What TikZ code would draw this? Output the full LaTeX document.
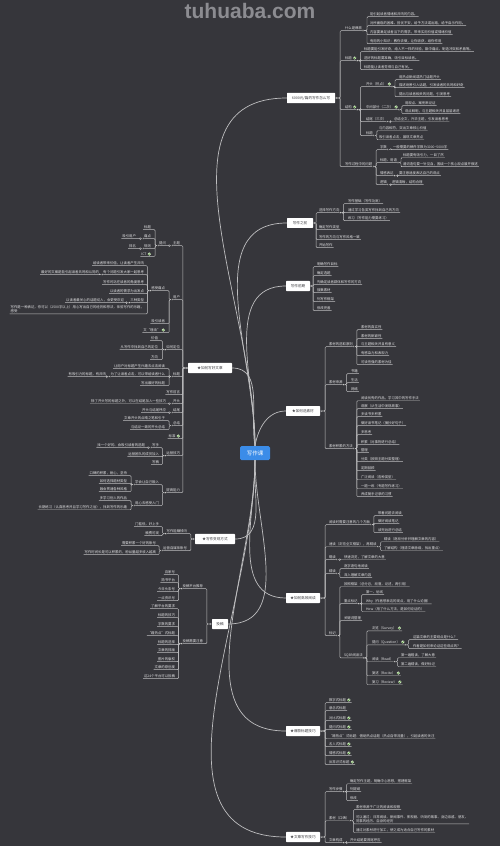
\documentclass[tikz,border=0pt]{standalone}
\usepackage{fontspec}
\setmainfont{Noto Sans CJK SC}
\newfontfamily\wmfont{Liberation Sans}
\definecolor{bgc}{RGB}{54,54,59}
\definecolor{lnc}{RGB}{190,190,192}
\definecolor{txtc}{RGB}{226,226,228}
\definecolor{boxt}{RGB}{60,60,64}
\definecolor{blu}{RGB}{59,140,232}
\definecolor{wmc}{RGB}{140,140,145}
\definecolor{dotc}{RGB}{235,235,235}
\definecolor{chkc}{RGB}{215,236,200}
\definecolor{chkg}{RGB}{70,140,45}
\newcommand\RN[4]{\node[lf,anchor=west] (#1) at (#2,#3) {#4};}
\newcommand\LN[4]{\node[lf,anchor=east] (#1) at (#2,#3) {#4};}
\newcommand\RNc[4]{\node[lf,anchor=west] (#1) at (#2,#3) {#4\hspace*{4.6pt}};\chk{#1}}
\newcommand\LNc[4]{\node[lf,anchor=east] (#1) at (#2,#3) {#4\hspace*{4.6pt}};\chk{#1}}
\newcommand\chk[1]{\coordinate (#1-k) at ([xshift=-2.7pt]#1.east);
  \fill[fill=chkc] (#1-k) circle (1.7pt);
  \draw[draw=chkg,line width=0.4pt] ([xshift=-0.9pt]#1-k) -- ++(0.6,0.7) -- ++(1.2,-1.4);}
\newcommand\RC[3][3]{\foreach \chn in {#3}{\draw[ln] (#2.south east) -- ++(#1,0) |- (\chn.south west) -- (\chn.south east);}\fill[dotf] (#2.south east) circle (1pt);}
\newcommand\LC[3][3]{\foreach \chn in {#3}{\draw[ln] (#2.south west) -- ++(-#1,0) |- (\chn.south east) -- (\chn.south west);}\fill[dotf] (#2.south west) circle (1pt);}
\newcommand\BRC[3][4]{\foreach \chn in {#3}{\draw[ln] (#2.east) -- ++(#1,0) |- (\chn.south west) -- (\chn.south east);}\fill[dotf] ([xshift=1.5pt]#2.east) circle (1.1pt);}
\newcommand\BLC[3][4]{\foreach \chn in {#3}{\draw[ln] (#2.west) -- ++(-#1,0) |- (\chn.south east) -- (\chn.south west);}\fill[dotf] ([xshift=-1.5pt]#2.west) circle (1.1pt);}
\begin{document}
\begin{tikzpicture}[x=1pt,y=-1pt,
 lf/.style={font=\fontsize{3.4}{4.2}\selectfont, text=txtc, inner xsep=0.8pt, inner ysep=0.9pt},
 ln/.style={draw=lnc, line width=0.45pt, rounded corners=1pt},
 cv/.style={draw=lnc, line width=0.7pt},
 dotf/.style={fill=dotc, draw=bgc!60!black, line width=0.2pt},
 box/.style={fill=white, text=boxt, font=\fontsize{3.6}{4.2}\selectfont, inner xsep=2pt, minimum height=9.5pt, rounded corners=0.6pt},
 cbox/.style={fill=blu, text=white, font=\fontsize{5.5}{6}\selectfont, minimum width=30pt, minimum height=14pt, rounded corners=1.5pt}
]
\useasboundingbox (0,0) rectangle (500,846);
\fill[bgc] (0,0) rectangle (500,846);
\node[font=\wmfont\bfseries\fontsize{21}{21}\selectfont, text=wmc] (wm) at (250,11) {tuhuaba.com};

% ---------- center ----------
\node[cbox] (c) at (255,453) {写作课};

% ---------- right main boxes ----------
\node[box,minimum width=48pt] (b1) at (311,98) {6000元/篇的写作怎么写};
\node[box,minimum width=26pt] (b2) at (300,223) {写作之前};
\node[box,minimum width=24pt] (b3) at (298,286) {写作前期};
\node[box,minimum width=34pt] (b4) at (303,411) {★如何选素材};
\node[box,minimum width=34pt] (b5) at (303,598) {★如何高效阅读};
\node[box,minimum width=34pt] (b6) at (303,731) {★爆款标题技巧};
\node[box,minimum width=34pt] (b7) at (303,837) {★文章写作技巧};
% ---------- left main boxes ----------
\node[box,minimum width=44pt] (l1) at (210,368) {★如何写好文章};
\node[box,minimum width=40pt] (l2) at (215,539) {★写作变现方式};
\node[box,minimum width=16pt] (l3) at (220,624) {投稿};

% ---------- curves ----------
\draw[cv] (c.north) to[out=90,in=180] (b1.west);
\draw[cv] (c.north) to[out=90,in=180] (b2.west);
\draw[cv] (c.north) to[out=90,in=180] (b3.west);
\draw[cv] (c.north) to[out=80,in=180] (b4.west);
\draw[cv] (c.south) to[out=-90,in=180] (b5.west);
\draw[cv] (c.south) to[out=-90,in=180] (b6.west);
\draw[cv] (c.south) to[out=-90,in=180] (b7.west);
\draw[cv] (c.north) to[out=100,in=0] (l1.east);
\draw[cv] (c.south) to[out=-95,in=0] (l2.east);
\draw[cv] (c.south) to[out=-90,in=0] (l3.east);

% ================= B1 =================
\RN{b1a}{344}{28}{什么是爆款}
\RNc{b1b}{344}{58}{标题}
\RNc{b1c}{344}{107}{结构}
\RN{b1d}{344}{164}{写作过程中的问题}
\BRC[5]{b1}{b1a,b1b,b1c,b1d}
\RN{b1a1}{369}{14}{能引起读者情绪和共鸣的内容。}
\RN{b1a2}{369}{23}{对所面临的困难、担忧不安，给予方法或出路，给予启示作用。}
\RN{b1a3}{369}{32}{内容要满足读者当下的需求，带来实用价值或情绪价值}
\RN{b1a4}{369}{41}{有用的小知识：教你去做，让你收获，给你作用}
\RC[4]{b1a}{b1a1,b1a2,b1a3,b1a4}
\RN{b1b1}{363}{49}{标题要能引发好奇，给人不一样的体验，戳中痛点、制造冲突和矛盾等。}
\RN{b1b2}{363}{58}{选好的标题要准确，吸引目标读者。}
\RN{b1b3}{363}{67}{标题能让读者觉得与自己有关。}
\RC{b1b}{b1b1,b1b2,b1b3}
\RNc{b1c1}{365}{84}{开头（热点）}
\RNc{b1c2}{365}{107}{中间部分（二次）}
\RN{b1c3}{365}{119}{结尾（三次）}
\RN{b1c4}{365}{133}{标题}
\RC{b1c}{b1c1,b1c2,b1c3,b1c4}
\RN{b1c1a}{398}{77}{用热点新闻或热门话题开头}
\RN{b1c1b}{398}{85}{描述场景引入话题，引发读者的共鸣和好奇}
\RN{b1c1c}{398}{94}{提出与读者相关的问题，引发思考}
\RC{b1c1}{b1c1a,b1c1b,b1c1c}
\RN{b1c2a}{404}{103}{用观点、案例来论证}
\RN{b1c2b}{404}{111}{观点鲜明，与主题相关并且层层递进}
\RC{b1c2}{b1c2a,b1c2b}
\RN{b1c3a}{393}{119}{总结全文，升华主题，引发读者思考}
\RC{b1c3}{b1c3a}
\RN{b1c4a}{378}{128}{与内容相符，突出文章核心价值}
\RN{b1c4b}{378}{137}{吸引读者点击，展现文章亮点}
\RC{b1c4}{b1c4a,b1c4b}
\RN{b1d1}{379}{147}{字数}
\RN{b1d2}{379}{160}{标题、用语}
\RN{b1d3}{379}{173}{情感表达}
\RN{b1d4}{379}{182}{逻辑}
\RC{b1d}{b1d1,b1d2,b1d3,b1d4}
\RN{b1d1a}{392}{147}{一般需要的稿件字数为3000\textasciitilde 5000字}
\RC{b1d1}{b1d1a}
\RN{b1d2a}{402}{155}{标题要有吸引力，一目了然}
\RN{b1d2b}{402}{164}{遣词造句要一针见血，围绕一个核心观点展开叙述}
\RC{b1d2}{b1d2a,b1d2b}
\RN{b1d3a}{398}{173}{要注意适度表达自己的观点}
\RC{b1d3}{b1d3a}
\RN{b1d4a}{391}{182}{逻辑清晰，结构合理}
\RC{b1d4}{b1d4a}

% ================= B2 =================
\RN{b2a}{318}{210}{选择写作方向}
\RN{b2b}{318}{227}{确定写作类型}
\RN{b2c}{318}{237}{写作的方向与写作风格一致}
\RN{b2d}{318}{245}{开始写作}
\BRC[3]{b2}{b2a,b2b,b2c,b2d}
\RN{b2a1}{347}{201}{写作基础（写作功底）}
\RN{b2a2}{347}{210}{通过学习各类写作找到自己的方向}
\RN{b2a3}{347}{218}{练习（写作能力需要练习）}
\RC{b2a}{b2a1,b2a2,b2a3}

% ================= B3 =================
\RN{b3a}{316}{264}{明确写作目标}
\RN{b3b}{316}{273}{确定选题}
\RN{b3c}{316}{282}{先确定读者群体和写作的方向}
\RN{b3d}{316}{290}{搜集素材}
\RN{b3e}{316}{299}{列写作框架}
\RN{b3f}{316}{308}{修改完善}
\BRC[3]{b3}{b3a,b3b,b3c,b3d,b3e,b3f}

% ================= B4 =================
\RN{b4a}{328}{344}{素材的选取原则}
\RN{b4b}{328}{382}{素材来源}
\RN{b4c}{328}{446}{素材积累的方法}
\BRC[5]{b4}{b4a,b4b,b4c}
\RN{b4a1}{360}{327}{素材的真实性}
\RN{b4a2}{360}{336}{素材的新颖性}
\RN{b4a3}{360}{344}{与主题相关并且有意义}
\RN{b4a4}{360}{353}{有感染力和表现力}
\RN{b4a5}{360}{362}{可读性强的素材为佳}
\RC{b4a}{b4a1,b4a2,b4a3,b4a4,b4a5}
\RN{b4b1}{350}{371}{书籍}
\RN{b4b2}{350}{380}{生活}
\RN{b4b3}{350}{389}{网络}
\RC{b4b}{b4b1,b4b2,b4b3}
\RN{b4c1}{360}{398}{阅读优秀的作品，学习其中的写作手法}
\RN{b4c2}{360}{406}{观察（从生活中发现故事）}
\RN{b4c3}{360}{414}{多读书多积累}
\RN{b4c4}{360}{423}{做好读书笔记（摘抄好句子）}
\RN{b4c5}{360}{432}{多思考}
\RN{b4c6}{360}{442}{积累（对事物进行总结）}
\RN{b4c7}{360}{450}{整理}
\RN{b4c8}{360}{459}{分类（按照主题分类整理）}
\RN{b4c9}{360}{468}{定期回顾}
\RN{b4c10}{360}{477}{广泛阅读（各种类型）}
\RN{b4c11}{360}{486}{一题一练（专题写作练习）}
\RN{b4c12}{360}{494}{养成随手记录的习惯}
\RC{b4c}{b4c1,b4c2,b4c3,b4c4,b4c5,b4c6,b4c7,b4c8,b4c9,b4c10,b4c11,b4c12}

% ================= B5 =================
\RN{b5a}{328}{522}{阅读时需要注意的几个方面}
\RN{b5b}{328}{544}{速读（浏览全文框架），再精读}
\RN{b5c}{328}{557}{略读}
\RN{b5d}{328}{571}{精读}
\RN{b5e}{328}{633}{标记}
\BRC[5]{b5}{b5a,b5b,b5c,b5d,b5e}
\RN{b5a1}{377}{513}{带着问题去阅读}
\RN{b5a2}{377}{521}{做好阅读笔记}
\RN{b5a3}{377}{530}{读完后进行总结}
\RC{b5a}{b5a1,b5a2,b5a3}
\RN{b5b1}{383}{539}{精读（逐段分析并理解文章的内容）}
\RN{b5b2}{383}{548}{了解结构（理清文章脉络，找出重点）}
\RC{b5b}{b5b1,b5b2}
\RN{b5c1}{343}{557}{快速浏览，了解文章的大意}
\RC{b5c}{b5c1}
\RN{b5d1}{343}{566}{逐字逐句地阅读}
\RN{b5d2}{343}{575}{深入理解文章内容}
\RC{b5d}{b5d1,b5d2}
\RN{b5e1}{343}{584}{按照框架（总分总，段落，论述，再引用）}
\RN{b5e2}{343}{601}{重点标记}
\RN{b5e3}{343}{618}{关键词整理}
\RN{b5e4}{343}{655}{SQ3R阅读法}
\RC{b5e}{b5e1,b5e2,b5e3,b5e4}
\RN{b5e2a}{365}{592}{第一、划线}
\RN{b5e2b}{365}{601}{Why（作者想表达的观点，用了什么论据）}
\RN{b5e2c}{365}{609}{How（用了什么方法，是如何论证的）}
\RC{b5e2}{b5e2a,b5e2b,b5e2c}
\RNc{b5e4a}{371}{628}{浏览（Survey）}
\RNc{b5e4b}{371}{642}{提问（Question）}
\RN{b5e4c}{371}{659}{阅读（Read）}
\RNc{b5e4d}{371}{673}{复述（Recite）}
\RNc{b5e4e}{371}{682}{复习（Review）}
\RC{b5e4}{b5e4a,b5e4b,b5e4c,b5e4d,b5e4e}
\RN{b5e4b1}{412}{637}{这篇文章的主要观点是什么？}
\RN{b5e4b2}{412}{646}{作者是如何来论证这些观点的？}
\RC{b5e4b}{b5e4b1,b5e4b2}
\RN{b5e4c1}{400}{655}{第一遍粗读，了解大意}
\RN{b5e4c2}{400}{664}{第二遍精读，做好标记}
\RC{b5e4c}{b5e4c1,b5e4c2}

% ================= B6 =================
\RNc{b6a}{328}{700}{数字式标题}
\RN{b6b}{328}{708}{悬念式标题}
\RNc{b6c}{328}{718}{对比式标题}
\RNc{b6d}{328}{727}{提问式标题}
\RN{b6e}{328}{736}{“蹭热点”式标题：借助热点话题（热点自带流量），引起读者的关注}
\RNc{b6f}{328}{744}{名人式标题}
\RNc{b6g}{328}{753}{情感式标题}
\RNc{b6h}{328}{762}{反常识式标题}
\BRC[5]{b6}{b6a,b6b,b6c,b6d,b6e,b6f,b6g,b6h}

% ================= B7 =================
\RN{b7a}{328}{789}{写作步骤}
\RN{b7b}{328}{818}{素材（口碑）}
\RN{b7c}{328}{840}{文章构成}
\BRC[5]{b7}{b7a,b7b,b7c}
\RN{b7a1}{349}{781}{确定写作主题，明确中心思想，搭建框架}
\RN{b7a2}{349}{789}{列提纲}
\RN{b7a3}{349}{798}{修改}
\RC{b7a}{b7a1,b7a2,b7a3}
\RN{b7b1}{355}{807}{素材来源于广泛的阅读和观察}
\node[lf,anchor=west,align=left] (b7b2) at (355,819) {可以通过：日常阅读、新闻事件、影视剧、听到的故事、身边亲戚、朋友、\\同事的经历、自身的经历};
\RN{b7b3}{355}{830}{通过对素材进行加工，使之成为适合自己写作的素材}
\RC{b7b}{b7b1,b7b2,b7b3}
\RN{b7c1}{349}{840}{开头结尾要首尾呼应}
\RC{b7c}{b7c1}

% ================= L1 =================
\LN{l1a}{181}{243}{主题}
\LN{l1b}{181}{297}{用户}
\LN{l1c}{181}{347}{如何定位}
\LN{l1d}{181}{374}{标题}
\LN{l1e}{181}{392}{写作前言}
\LN{l1f}{181}{401}{开头}
\LN{l1g}{181}{410}{结尾}
\LN{l1h}{181}{423}{总结}
\LNc{l1i}{181}{436}{标准}
\LN{l1j}{181}{453}{运营技巧}
\LN{l1k}{181}{490}{提高能力}
\BLC[5]{l1}{l1a,l1b,l1c,l1d,l1e,l1f,l1g,l1h,l1i,l1j,l1k}
% 主题
\LN{l1a1}{167}{243}{提问}
\LC{l1a}{l1a1}
\LN{l1a1a}{152}{227}{标题}
\LN{l1a1b}{152}{236}{痛点}
\LN{l1a1c}{152}{246}{规则}
\LNc{l1a1d}{152}{254}{ICT}
\LC{l1a1}{l1a1a,l1a1b,l1a1c,l1a1d}
\LN{l1a1b1}{137}{236}{吸引用户}
\LC{l1a1b}{l1a1b1}
\LN{l1a1c1}{137}{246}{排名}
\LC{l1a1c}{l1a1c1}
% 用户
\LN{l1b1}{166}{288}{感受痛点}
\LN{l1b2}{166}{321}{吸引读者}
\LNc{l1b3}{166}{330}{文“理由”}
\LC{l1b}{l1b1,l1b2,l1b3}
\LN{l1b1a}{145}{263}{给读者带来价值，让读者产生共鸣}
\LN{l1b1b}{145}{272}{有个问题引发大家一起思考}
\LN{l1b1c}{145}{282}{写作时站在读者的角度思考}
\LN{l1b1d}{145}{291}{以读者的需求为出发点}
\LN{l1b1e}{145}{300}{三种类型}
\node[lf,anchor=east,align=left] (l1b1f) at (145,309) {写作是一种表达，你可以（2500字以上）用心写出自己的经历和想法，体验写作的乐趣，\\感受};
\LC{l1b1}{l1b1a,l1b1b,l1b1c,l1b1d,l1b1e,l1b1f}
\LN{l1b1b1}{100}{272}{最好的文案是能引起读者共鸣和认同的}
\LC{l1b1b}{l1b1b1}
\LN{l1b1e1}{125}{300}{以读者最关心的话题切入，会更受欢迎}
\LC{l1b1e}{l1b1e1}
% 如何定位
\LN{l1c1}{159}{338}{价值}
\LN{l1c2}{159}{347}{从写作中找到自己的定位}
\LN{l1c3}{159}{357}{方向}
\LC{l1c}{l1c1,l1c2,l1c3}
% 标题
\LN{l1d1}{166}{366}{让用户对标题产生兴趣去点击阅读}
\LN{l1d2}{166}{374}{为了让读者点击，可以带给读者什么}
\LN{l1d3}{166}{383}{写出最好的标题}
\LC{l1d}{l1d1,l1d2,l1d3}
\LN{l1d2a}{107}{374}{有吸引力的标题，有共鸣}
\LC{l1d2}{l1d2a}
% 开头 结尾 总结
\LN{l1f1}{167}{401}{除了开头写的标题之外，可以在结尾加入一些技巧}
\LC{l1f}{l1f1}
\LN{l1g1}{167}{410}{开头与结尾呼应}
\LC{l1g}{l1g1}
\LN{l1h1}{166}{418}{文章开头的点睛之笔和引子}
\LN{l1h2}{166}{427}{与结论一致的开头总结}
\LC{l1h}{l1h1,l1h2}
% 运营技巧
\LN{l1j1}{160}{445}{写手}
\LN{l1j2}{160}{454}{运营团队的成员加入}
\LN{l1j3}{160}{462}{写稿}
\LC{l1j}{l1j1,l1j2,l1j3}
\LN{l1j1a}{146}{445}{找一个好的、会吸引读者的选题}
\LC{l1j1}{l1j1a}
% 提高能力
\LN{l1k1}{160}{482}{学会让自己融入}
\LN{l1k2}{160}{503}{用心去感受入门}
\LC{l1k}{l1k1,l1k2}
\LN{l1k1a}{128}{473}{口碑的积累，耐心，坚持}
\LN{l1k1b}{128}{481}{如何选择题材类型}
\LN{l1k1c}{128}{489}{融会贯通各种风格}
\LC{l1k1}{l1k1a,l1k1b,l1k1c}
\LN{l1k2a}{128}{498}{多学习别人的作品}
\LN{l1k2b}{128}{507}{长期练习（认真思考并且学习写作之后），找到写作的乐趣}
\LC{l1k2}{l1k2a,l1k2b}

% ================= L2 =================
\LN{l2a}{188}{531}{写作能赚钱吗}
\LN{l2b}{188}{548}{运营自媒体账号}
\BLC[4]{l2}{l2a,l2b}
\LN{l2a1}{160}{524}{门槛低，好上手}
\LN{l2a2}{160}{533}{稿费可观}
\LC{l2a}{l2a1,l2a2}
\LN{l2b1}{157}{543}{需要积累一个好的账号}
\LN{l2b2}{157}{552}{写作时间长是可以积累的，粉丝量越多收入越高}
\LC{l2b}{l2b1,l2b2}

% ================= L3 =================
\LN{l3a}{204}{586}{投稿平台推荐}
\LN{l3b}{204}{641}{投稿需要注意}
\BLC[5]{l3}{l3a,l3b}
\LN{l3a1}{176}{572}{百家号}
\LN{l3a2}{176}{580}{简书平台}
\LN{l3a3}{176}{589}{今日头条号}
\LN{l3a4}{176}{598}{一点资讯号}
\LC{l3a}{l3a1,l3a2,l3a3,l3a4}
\LN{l3b1}{176}{606}{了解平台的要求}
\LN{l3b2}{176}{615}{标题的技巧}
\LN{l3b3}{176}{624}{字数的要求}
\LN{l3b4}{176}{633}{“蹭热点”式标题}
\LN{l3b5}{176}{642}{标题的选择}
\LN{l3b6}{176}{650}{文章的排版}
\LN{l3b7}{176}{659}{图片的版权}
\LN{l3b8}{176}{667}{文章的原创度}
\LN{l3b9}{176}{676}{这24个平台可以投稿}
\LC{l3b}{l3b1,l3b2,l3b3,l3b4,l3b5,l3b6,l3b7,l3b8,l3b9}
\end{tikzpicture}
\end{document}
